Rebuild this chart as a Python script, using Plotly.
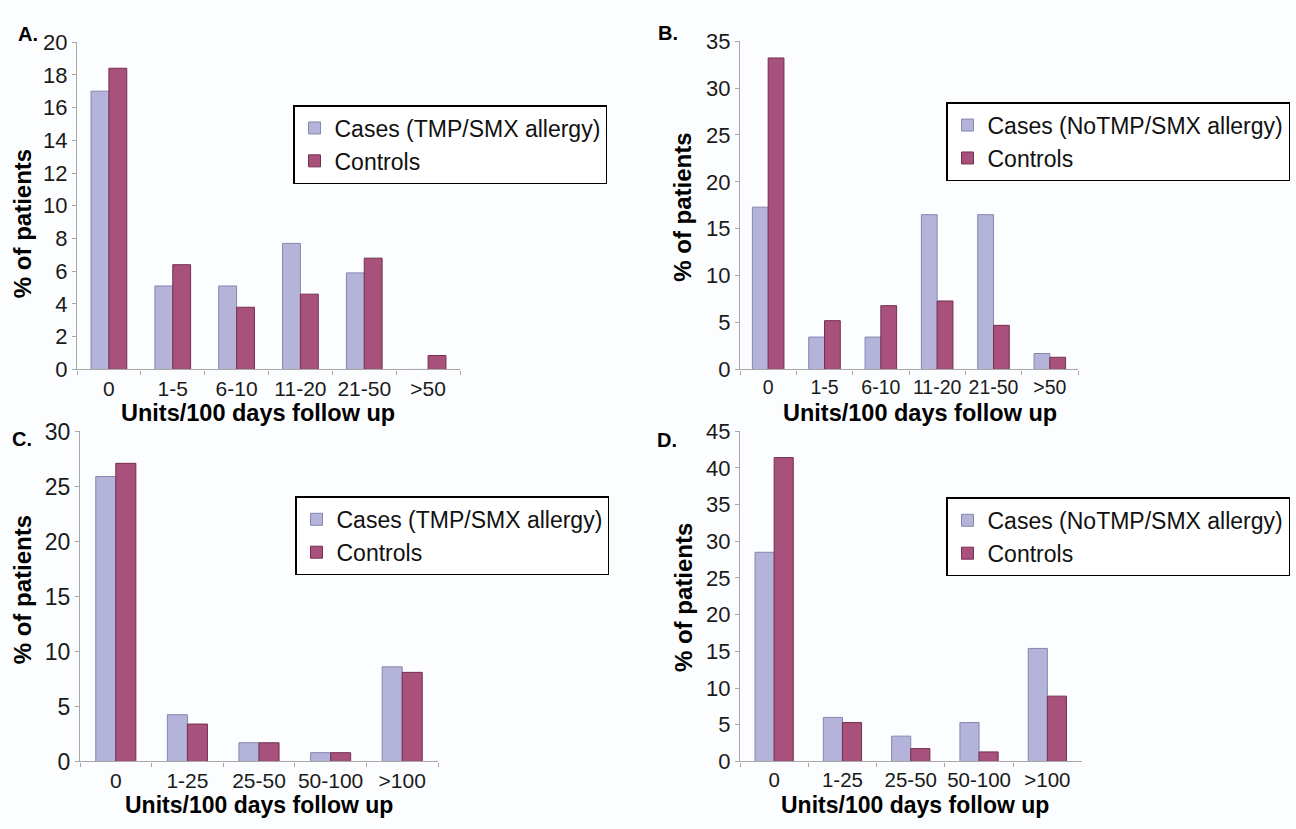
import plotly.graph_objects as go

W, H = 1296, 829

cats_AB = ["0", "1-5", "6-10", "11-20", "21-50", ">50"]
cats_CD = ["0", "1-25", "25-50", "50-100", ">100"]

A_cases = [17.0, 5.1, 5.1, 7.7, 5.9, 0]
A_controls = [18.4, 6.4, 3.8, 4.6, 6.8, 0.85]
B_cases = [17.3, 3.45, 3.45, 16.5, 16.5, 1.7]
B_controls = [33.2, 5.2, 6.8, 7.3, 4.7, 1.3]
C_cases = [25.9, 4.25, 1.7, 0.8, 8.6]
C_controls = [27.1, 3.4, 1.7, 0.8, 8.1]
D_cases = [28.5, 6.0, 3.45, 5.3, 15.4]
D_controls = [41.4, 5.3, 1.75, 1.3, 8.9]

label_tmp = "Cases (TMP/SMX allergy)"
label_notmp = "Cases (NoTMP/SMX allergy)"
label_ctrl = "Controls"

CASE_FILL, CASE_LINE = "#B4B4DA", "#8686AE"
CTRL_FILL, CTRL_LINE = "#A8517D", "#74304F"
FONT = "Liberation Sans, Arial, sans-serif"

panels = [
    # letter, cats, cases, controls, case label, axis suffix, legend id, ymax, dtick, x tick font, y tick font
    ("A.", cats_AB, A_cases, A_controls, label_tmp, "", "legend", 20, 2, 21, 22),
    ("B.", cats_AB, B_cases, B_controls, label_notmp, "2", "legend2", 35, 5, 19.5, 22),
    ("C.", cats_CD, C_cases, C_controls, label_tmp, "3", "legend3", 30, 5, 21, 23),
    ("D.", cats_CD, D_cases, D_controls, label_notmp, "4", "legend4", 45, 5, 20.5, 22),
]

# pixel boxes of plot areas (left, right, top, bottom)
boxes = {
    "": (77, 460, 30, 368),
    "2": (740, 1078, 29, 368),
    "3": (80, 438, 432, 772.7),
    "4": (740, 1081.5, 431.7, 772.7),
}

fig = go.Figure()
layout = dict(
    width=W, height=H,
    margin=dict(l=0, r=0, t=0, b=0),
    paper_bgcolor="#FCFDFE", plot_bgcolor="#FCFDFE",
    barmode="group", bargap=0.44, bargroupgap=0,
    font=dict(family=FONT, color="#1a1a1a"),
)

for letter, cats, cases, ctrls, clabel, sfx, leg, ymax, dt, xtfs, ytfs in panels:
    xa, ya = "x" + sfx, "y" + sfx
    fig.add_trace(go.Bar(x=cats, y=cases, name=clabel, xaxis=xa, yaxis=ya, legend=leg,
                         marker=dict(color=CASE_FILL, line=dict(color=CASE_LINE, width=1))))
    fig.add_trace(go.Bar(x=cats, y=ctrls, name=label_ctrl, xaxis=xa, yaxis=ya, legend=leg,
                         marker=dict(color=CTRL_FILL, line=dict(color=CTRL_LINE, width=1))))
    l, r, t, b = boxes[sfx]
    layout["xaxis" + sfx] = dict(
        domain=[l / W, r / W], anchor=ya, type="category", tickangle=0,
        showline=True, linecolor="#A8A8A8", linewidth=1.2,
        ticks="outside", tickson="boundaries", ticklen=4, tickcolor="#A8A8A8",
        tickfont=dict(size=xtfs, family=FONT, color="#1a1a1a"), showgrid=False, zeroline=False,
    )
    layout["yaxis" + sfx] = dict(
        domain=[1 - b / H, 1 - t / H], anchor=xa, range=[0, ymax], dtick=dt,
        showline=True, linecolor="#A8A8A8", linewidth=1.2,
        ticks="outside", ticklen=4, tickcolor="#A8A8A8",
        tickfont=dict(size=ytfs, family=FONT, color="#1a1a1a"), showgrid=False, zeroline=False,
    )

legend_pos = {
    "legend": (293, 95, 23),
    "legend2": (946, 92, 23),
    "legend3": (295, 499, 23),
    "legend4": (946, 500, 23),
}
for leg, (lx, ly, fs) in legend_pos.items():
    layout[leg] = dict(
        x=lx / W, y=1 - ly / H, xanchor="left", yanchor="top",
        bgcolor="#FFFFFF", bordercolor="#000000", borderwidth=1.5,
        font=dict(size=fs, family=FONT, color="#111111"),
        itemwidth=30, tracegroupgap=0, traceorder="normal",
    )

fig.update_layout(**layout)

annots = []
# panel letters
for txt, x, y in [("A.", 16, 22), ("B.", 656, 21), ("C.", 10, 440), ("D.", 655, 441)]:
    annots.append(dict(text="<b>%s</b>" % txt, x=x / W, y=1 - y / H, xref="paper", yref="paper",
                       xanchor="left", yanchor="middle", showarrow=False,
                       font=dict(size=20, family=FONT, color="#000")))
# y titles
for x, y in [(22, 218), (683, 200), (22, 596), (683, 603)]:
    annots.append(dict(text="<b>% of patients</b>", x=x / W, y=1 - y / H, xref="paper", yref="paper",
                       xanchor="center", yanchor="middle", textangle=-90, showarrow=False,
                       font=dict(size=24, family=FONT, color="#000")))
# x titles
for x, y, fs in [(258, 413, 23.5), (920, 413, 23.5), (259, 818, 23), (915, 818, 23)]:
    annots.append(dict(text="<b>Units/100 days follow up</b>", x=x / W, y=1 - y / H,
                       xref="paper", yref="paper", xanchor="center", yanchor="middle",
                       showarrow=False, font=dict(size=fs, family=FONT, color="#000")))
fig.update_layout(annotations=annots)

fig.write_html(
    "out.html",
    config={"displayModeBar": False},
    post_script="document.body.style.margin='0';document.body.style.overflow='hidden';",
)
